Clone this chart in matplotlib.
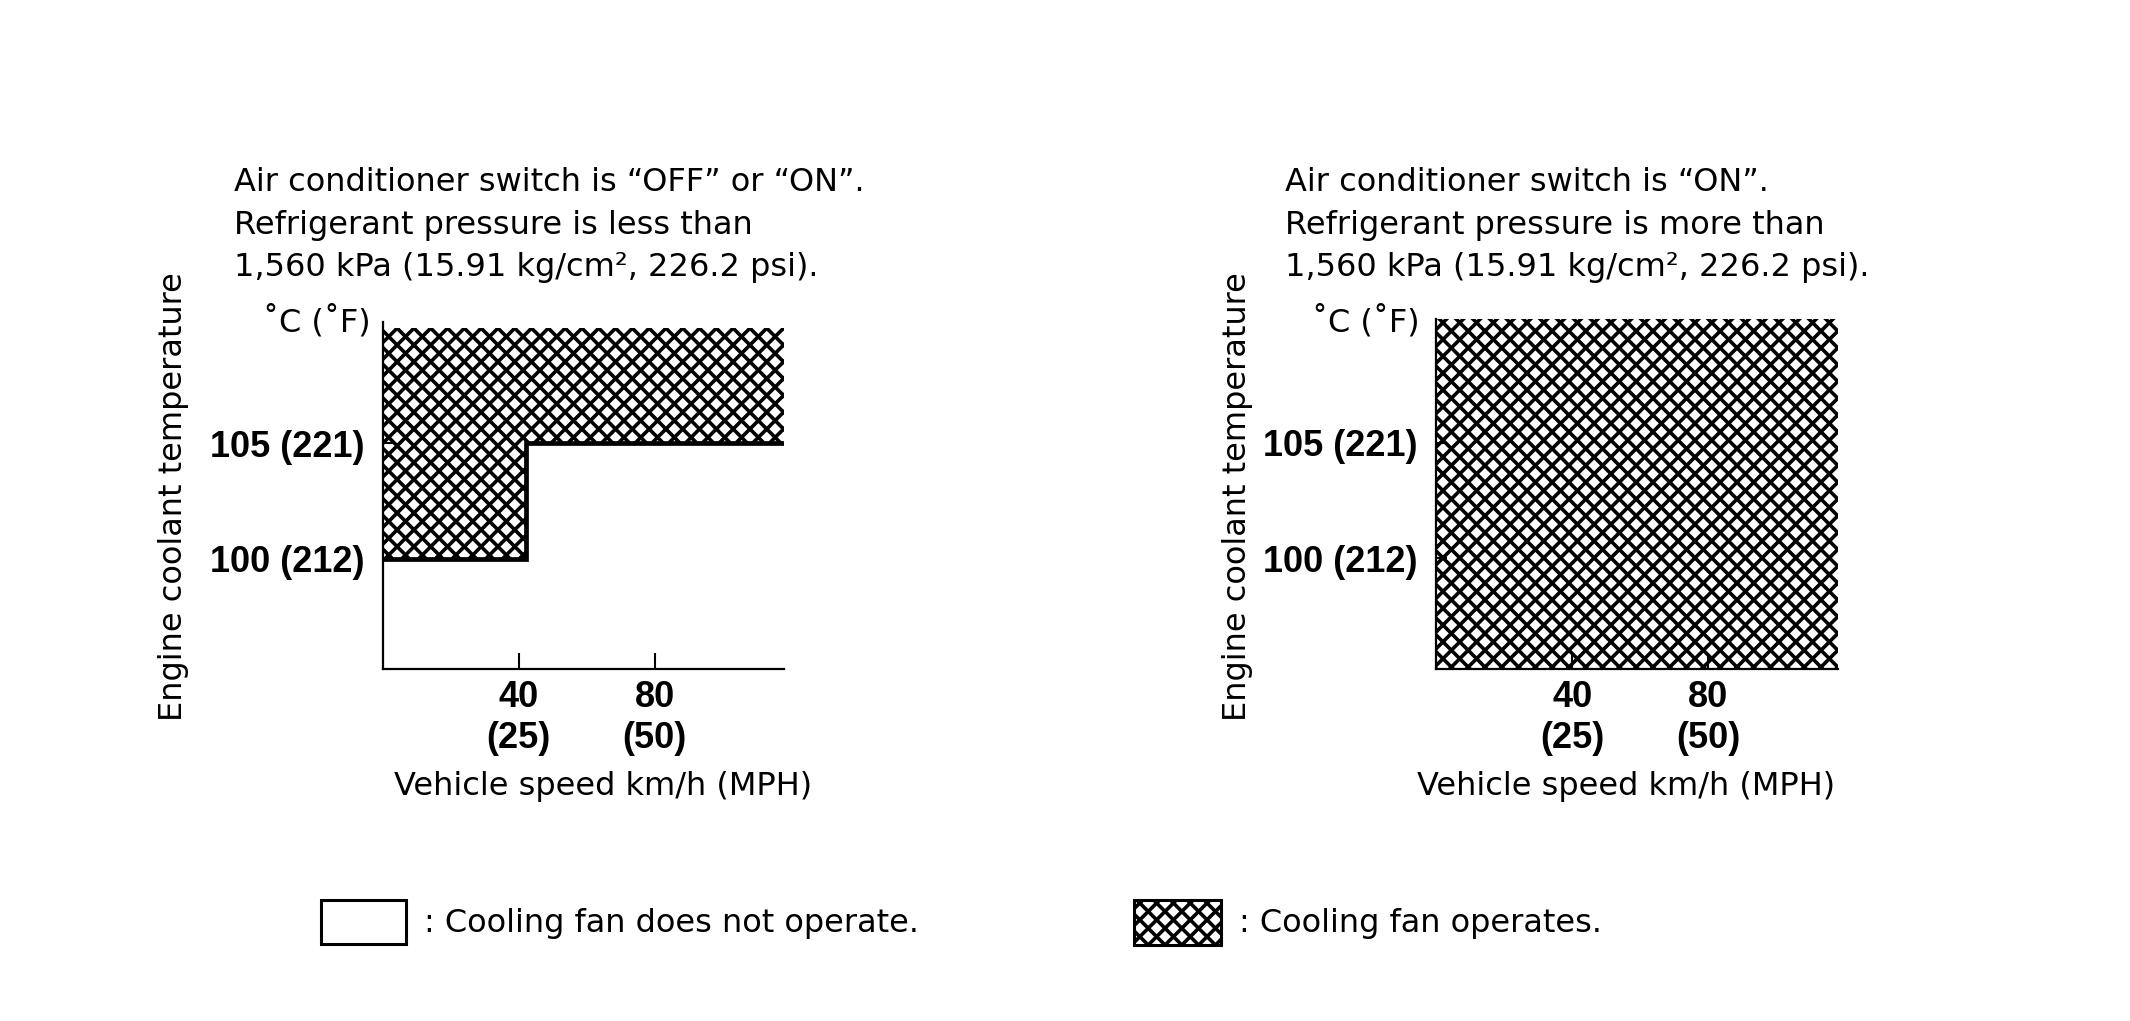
import numpy as np
import matplotlib
matplotlib.use("Agg")
import matplotlib.pyplot as plt
from matplotlib.patches import Rectangle
from matplotlib.collections import LineCollection
from matplotlib.transforms import IdentityTransform

# ---------------- data ----------------
speed_ticks_kmh = [40, 80]
speed_ticks_mph = [25, 50]
temp_ticks_c = [100, 105]
temp_ticks_f = [212, 221]
speed_max = 118
temp_min, temp_max = 95.2, 110.25

# left chart: fan operates above this stepped boundary (A/C off or on, low pressure)
left_boundary_speed = [0, 42, 42, 118]
left_boundary_temp = [100, 100, 105, 105]
left_region_top = 110

# right chart: fan operates everywhere (A/C on, high pressure)
right_region_speed = [0, 118]
right_region_bottom = [95.2, 95.2]
right_region_top = 110.35

left_title = ["Air conditioner switch is \u201cOFF\u201d or \u201cON\u201d.",
              "Refrigerant pressure is less than",
              "1,560 kPa (15.91 kg/cm\u00b2, 226.2 psi)."]
right_title = ["Air conditioner switch is \u201cON\u201d.",
               "Refrigerant pressure is more than",
               "1,560 kPa (15.91 kg/cm\u00b2, 226.2 psi)."]
y_unit = "\u02daC (\u02daF)"
y_label = "Engine coolant temperature"
x_label = "Vehicle speed km/h (MPH)"
legend_labels = [": Cooling fan does not operate.", ": Cooling fan operates."]

# ---------------- style ----------------
plt.rcParams['font.family'] = ['DejaVu Sans']
DPI = 100
W_PX, H_PX = 2130, 1021
HATCH_PERIOD_PX = 16.8
HATCH_LW_PT = 2.6
REG = 23
BOLD_FONT = dict(family='Liberation Sans', weight='bold', size=26)

fig = plt.figure(figsize=(W_PX / DPI, H_PX / DPI), dpi=DPI)
fig.patch.set_facecolor('white')

xtick_labels = [f"{k}\n({m})" for k, m in zip(speed_ticks_kmh, speed_ticks_mph)]
ytick_labels = [f"{c} ({f})" for c, f in zip(temp_ticks_c, temp_ticks_f)]


def crosshatch(container, clip_path, clip_transform, bbox_px, zorder=1):
    """Diamond cross-hatch texture (style only) clipped to a region."""
    x0, y0, x1, y1 = bbox_px
    span = (x1 - x0) + (y1 - y0)
    offsets = np.arange(-span, span, HATCH_PERIOD_PX)
    segs = []
    for c in offsets:
        segs.append([(x0 - 5, y0 + c - 5), (x1 + span, y0 + c + (x1 + span - x0))])
        segs.append([(x0 - 5, y1 + c + 5), (x1 + span, y1 + c - (x1 + span - x0))])
    lc = LineCollection(segs, colors='black', linewidths=HATCH_LW_PT,
                        transform=IdentityTransform(), zorder=zorder)
    lc.set_clip_path(clip_path, clip_transform)
    if container is not None:
        container.add_artist(lc)
    return lc


def setup_axes(rect, ylim_top):
    ax = fig.add_axes(rect)
    ax.set_xlim(0, speed_max)
    ax.set_ylim(temp_min, ylim_top)
    for s in ['top', 'right']:
        ax.spines[s].set_visible(False)
    for s in ['left', 'bottom']:
        ax.spines[s].set_linewidth(1.6)
        ax.spines[s].set_zorder(4)
    ax.set_xticks(speed_ticks_kmh)
    ax.set_xticklabels(xtick_labels, fontdict=BOLD_FONT, linespacing=1.2)
    ax.set_yticks(temp_ticks_c)
    ax.set_yticklabels(ytick_labels, fontdict=BOLD_FONT)
    ax.tick_params(axis='x', direction='in', length=11.5, width=1.5, pad=8)
    ax.tick_params(axis='y', direction='in', length=8, width=1.5, pad=13)
    ax.set_facecolor('none')
    return ax


rectL = [0.1798, 0.3444, 0.1881, 0.3404]
rectR = [0.6741, 0.3444, 0.1888, 0.3431]
axL = setup_axes(rectL, temp_max)
axR = setup_axes(rectR, right_region_top)


def rect_px(r):
    return (r[0] * W_PX, r[1] * H_PX, (r[0] + r[2]) * W_PX, (r[1] + r[3]) * H_PX)


regL = axL.fill_between(left_boundary_speed, left_boundary_temp, left_region_top,
                        facecolor='white', linewidth=0, zorder=1)
crosshatch(axL, regL.get_paths()[0], axL.transData, rect_px(rectL), zorder=1.5)
axL.plot(left_boundary_speed, left_boundary_temp, color='black', lw=3.4,
         solid_joinstyle='miter', solid_capstyle='butt', zorder=3)

regR = axR.fill_between(right_region_speed, right_region_bottom, right_region_top,
                        facecolor='white', linewidth=0, zorder=1)
crosshatch(axR, regR.get_paths()[0], axR.transData, rect_px(rectR), zorder=1.5)

# titles
title_baselines = [0.8125, 0.7713, 0.7300]
for line, yb in zip(left_title, title_baselines):
    fig.text(0.1097, yb, line, fontsize=REG, ha='left', va='baseline')
for line, yb in zip(right_title, title_baselines):
    fig.text(0.6033, yb, line, fontsize=REG, ha='left', va='baseline')

# unit labels
fig.text(0.1741, 0.6848, y_unit, fontsize=REG, ha='right', va='center')
fig.text(0.6665, 0.6848, y_unit, fontsize=REG, ha='right', va='center')

# axis labels
fig.text(0.0816, 0.5133, y_label, fontsize=REG, rotation=90, ha='center', va='center')
fig.text(0.5810, 0.5133, y_label, fontsize=REG, rotation=90, ha='center', va='center')
fig.text(0.2832, 0.2300, x_label, fontsize=REG, ha='center', va='center')
fig.text(0.7634, 0.2300, x_label, fontsize=REG, ha='center', va='center')

# legend
leg_empty = [0.1505, 0.0758, 0.0402, 0.0426]
leg_hatch = [0.5325, 0.0745, 0.0408, 0.0439]
fig.patches.append(Rectangle(leg_empty[:2], leg_empty[2], leg_empty[3], transform=fig.transFigure,
                             facecolor='white', edgecolor='black', linewidth=2.2, figure=fig, zorder=1))
hbox = Rectangle(leg_hatch[:2], leg_hatch[2], leg_hatch[3], transform=fig.transFigure,
                 facecolor='white', edgecolor='none', linewidth=0, figure=fig, zorder=1)
fig.patches.append(hbox)
leg_lc = crosshatch(None, hbox.get_path(), hbox.get_transform(), rect_px(leg_hatch))
leg_lc.set_figure(fig)
leg_lc.set_zorder(2)
fig.add_artist(leg_lc)
fig.patches.append(Rectangle(leg_hatch[:2], leg_hatch[2], leg_hatch[3], transform=fig.transFigure,
                             facecolor='none', edgecolor='black', linewidth=2.2, figure=fig, zorder=3))
fig.text(0.1990, 0.0957, legend_labels[0], fontsize=REG, ha='left', va='center')
fig.text(0.5816, 0.0957, legend_labels[1], fontsize=REG, ha='left', va='center')

fig.savefig("out.png", dpi=DPI, facecolor='white')
